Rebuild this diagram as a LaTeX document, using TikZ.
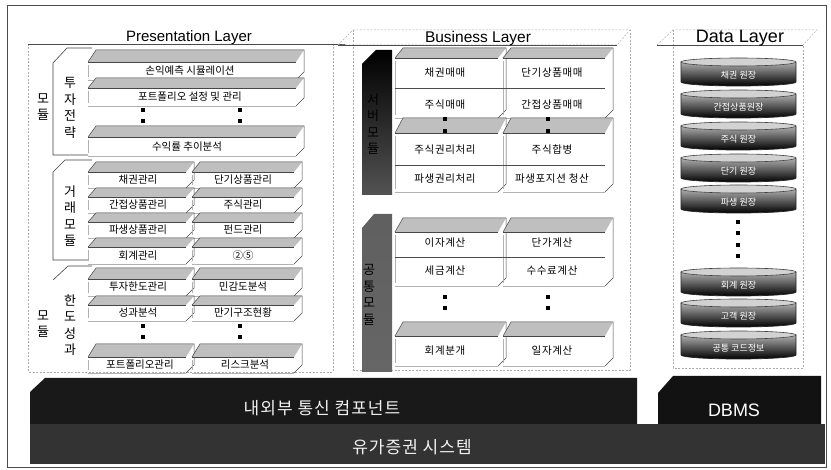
\documentclass[tikz,border=0pt]{standalone}
\usepackage{fontspec}
\setmainfont{Liberation Sans}
\newfontfamily\kr{Noto Sans CJK KR}
\newfontfamily\krwide[LetterSpace=6]{Noto Sans CJK KR}
\newcommand\myslab[5]{%
  \fill[gray!50] (#1,#4) -- ({#1+8},#3) -- ({#2+8},#3) -- (#2,#4) -- cycle;
  \draw[edge] (#1,#4) -- ({#1+8},#3) -- ({#2+8},#3) -- ({#2+8},{#5-8}) -- (#2,#5);
  \draw[edge] (#1,#4) -- (#2,#4);
  \draw[gray!60, line width=0.4pt] (#1,#5) -- (#2,#5);
  \draw[gray!60, line width=0.4pt] (#1,{#4+3}) -- (#1,{#5-3});
}
\newcommand\mydot[2]{\fill[black] ({#1-2.4},{#2-2.4}) rectangle ({#1+2.4},{#2+2.4});}
\newcommand\mycyl[3]{%
  \shade[top color=gray!40, middle color=gray!60, bottom color=black] (681,{#1-10}) -- (681,{#1+10})
     arc[start angle=180,end angle=360,x radius=57.5pt,y radius=4pt] -- (796,{#1-10})
     arc[start angle=0,end angle=180,x radius=57.5pt,y radius=4pt] -- cycle;
  \draw[black!85, line width=0.7pt] (681,{#1-10}) -- (681,{#1+10})
     arc[start angle=180,end angle=360,x radius=57.5pt,y radius=4pt] -- (796,{#1-10});
  \filldraw[fill=gray!35, draw=black!75, line width=0.6pt] (738.5,{#1-10}) ellipse[x radius=57.5pt, y radius=4pt];
  \node[cyltext] (#2) at (738.5,{#1+3}) {#3};
}
\begin{document}
\begin{tikzpicture}[x=1pt,y=-1pt,
  layerframe/.style={draw=gray!65, dash pattern=on 2pt off 1.5pt, line width=0.5pt},
  edge/.style={draw=gray!55!black, line width=0.5pt},
  item/.style={font=\kr\fontsize{10.5}{12}\selectfont, inner sep=0pt, text=black},
  bitem/.style={font=\krwide\fontsize{10.5}{12}\selectfont, inner sep=0pt, text=black},
  vlab/.style={font=\kr\fontsize{13}{16.5}\selectfont, align=center, inner sep=0pt},
  modline/.style={draw=black!75, line width=0.6pt},
  bigtext/.style={font=\krwide\fontsize{17}{19}\selectfont, text=gray!12, inner sep=0pt},
  cyltext/.style={font=\kr\fontsize{9}{10}\selectfont, text=white, inner sep=0pt},
]
\useasboundingbox (0,0) rectangle (831,470);
\fill[white] (0,0) rectangle (831,470);
\draw[black!70, line width=0.7pt] (7,5) rectangle (826,467);

% ---------------- Presentation layer ----------------
\draw[layerframe] (28,44) -- (28,372) -- (333,372) -- (333,44);
\draw[gray!60!black, line width=0.5pt] (28,44) -- (345,44);
\node[font=\fontsize{15}{17}\selectfont, anchor=base, inner sep=0pt] (ptitle) at (189,42) {Presentation Layer};

\draw[modline] (92,48) -- (67,48) -- (53,63) -- (53,155) -- (88,155);
\draw[modline] (92,160) -- (65,160) -- (53,172) -- (53,260) -- (88,260);
\draw[modline] (92,266) -- (68,266) -- (53,280);
\draw[layerframe] (43,372) -- (88,372);

\node[vlab] (m1) at (70,108) {투\\자\\전\\략};
\node[vlab] (m1b) at (43,107) {모\\듈};
\node[vlab] (m2) at (70,216) {거\\래\\모\\듈};
\node[vlab] (m3) at (70,325) {한\\도\\성\\과};
\node[vlab] (m3b) at (43,324) {모\\듈};

% module 1
\myslab{88}{296}{50}{62}{80}
\node[item] (p11) at (190,71) {손익예측 시뮬레이션};
\myslab{88}{296}{78}{88}{106}
\node[item] (p12) at (190,97) {포트폴리오 설정 및 관리};
\mydot{143}{110}\mydot{143}{121}\mydot{240}{110}\mydot{240}{121}
\myslab{88}{296}{126}{137}{156}
\node[item] (p13) at (187,147) {수익률 추이분석};

% module 2
\myslab{88}{186}{162}{172}{188}\myslab{192}{294}{162}{172}{188}
\node[item] (p21) at (138,180) {채권관리};
\node[item] (p22) at (243,180) {단기상품관리};
\myslab{88}{186}{188}{197}{213}\myslab{192}{294}{188}{197}{213}
\node[item] (p23) at (138,205) {간접상품관리};
\node[item] (p24) at (243,205) {주식관리};
\myslab{88}{186}{213}{222}{238}\myslab{192}{294}{213}{222}{238}
\node[item] (p25) at (138,230) {파생상품관리};
\node[item] (p26) at (243,230) {펀드관리};
\myslab{88}{186}{238}{247}{264}\myslab{192}{294}{238}{247}{264}
\node[item] (p27) at (138,256) {회계관리};
\node[item] (p28) at (243,256) {②⑤};

% module 3
\myslab{88}{186}{268}{279}{296}\myslab{192}{294}{268}{279}{296}
\node[item] (p31) at (138,287) {투자한도관리};
\node[item] (p32) at (243,287) {민감도분석};
\myslab{88}{186}{296}{305}{321}\myslab{192}{294}{296}{305}{321}
\node[item] (p33) at (138,313) {성과분석};
\node[item] (p34) at (243,313) {만기구조현황};
\mydot{143}{326}\mydot{143}{337}\mydot{240}{326}\mydot{240}{337}
\myslab{88}{186}{344}{357}{373}\myslab{192}{294}{344}{357}{373}
\node[item] (p35) at (140,365) {포트폴리오관리};
\node[item] (p36) at (245,365) {리스크분석};

% ---------------- Business layer ----------------
\draw[layerframe] (338,45) -- (353,30) -- (630,30) -- (617,45) -- cycle;
\draw[layerframe] (353,30) -- (353,370) -- (630,370) -- (630,30);
\draw[gray!60!black, line width=0.5pt] (338,45) -- (617,45);
\node[font=\fontsize{15.5}{17}\selectfont, anchor=base, inner sep=0pt] (btitle) at (478,43) {Business Layer};

\shade[top color=black, middle color=gray!45, bottom color=gray!65!black] (362,64) -- (376,50) -- (392,50) -- (392,195) -- (362,195) -- cycle;
\node[vlab] (sv) at (373,124) {서\\버\\모\\듈};
\shade[top color=gray!75!black, middle color=gray!22, bottom color=gray!80!black] (362,228) -- (374,214) -- (392,214) -- (392,372) -- (362,372) -- cycle;
\node[vlab] (cm) at (369,295) {공\\통\\모\\듈};

\myslab{395}{498}{48}{58}{118}\myslab{503}{605}{48}{58}{118}
\draw[black!70, line width=0.6pt] (395,88) -- (605,88);
\node[bitem] (b1) at (445,73) {채권매매};
\node[bitem] (b2) at (552,73) {단기상품매매};
\node[bitem] (b3) at (445,105) {주식매매};
\node[bitem] (b4) at (552,105) {간접상품매매};
\myslab{395}{498}{118}{133}{192}\myslab{503}{605}{118}{133}{192}
\draw[black!70, line width=0.6pt] (395,165) -- (605,165);
\mydot{445}{119}\mydot{445}{131}\mydot{548}{119}\mydot{548}{131}
\node[bitem] (b5) at (445,150) {주식권리처리};
\node[bitem] (b6) at (552,150) {주식합병};
\node[bitem] (b7) at (445,179) {파생권리처리};
\node[bitem] (b8) at (552,179) {파생포지션 청산};

\myslab{395}{498}{218}{232}{286}\myslab{503}{605}{218}{232}{286}
\draw[black!70, line width=0.6pt] (395,257) -- (605,257);
\node[bitem] (c1) at (445,243) {이자계산};
\node[bitem] (c2) at (552,243) {단가계산};
\node[bitem] (c3) at (445,271) {세금계산};
\node[bitem] (c4) at (552,271) {수수료계산};
\mydot{445}{297}\mydot{445}{308}\mydot{548}{297}\mydot{548}{308}
\myslab{395}{498}{322}{336}{366}\myslab{503}{605}{322}{336}{366}
\node[bitem] (c5) at (445,351) {회계분개};
\node[bitem] (c6) at (552,351) {일자계산};

% ---------------- Data layer ----------------
\draw[layerframe] (657,45) -- (673,30) -- (817,30) -- (803,45);
\draw[layerframe] (673,30) -- (673,368) -- (803,368) -- (803,45);
\draw[gray!60!black, line width=0.5pt] (657,45) -- (803,45);
\node[font=\fontsize{18}{20}\selectfont, anchor=base, inner sep=0pt] (dtitle) at (740,43) {Data Layer};

\mycyl{72}{d1}{채권 원장}
\mycyl{104}{d2}{간접상품원장}
\mycyl{136}{d3}{주식 원장}
\mycyl{168}{d4}{단기 원장}
\mycyl{199}{d5}{파생 원장}
\mydot{738}{222}\mydot{738}{233}\mydot{738}{245}\mydot{738}{256}
\mycyl{282}{d6}{회계 원장}
\mycyl{313}{d7}{고객 원장}
\mycyl{345}{d8}{공통 코드정보}

% ---------------- bottom bars ----------------
\fill[black!90] (30,392) -- (45,378) -- (637,378) -- (637,424) -- (30,424) -- cycle;
\fill[black!93] (658,393) -- (673,376) -- (821,376) -- (821,424) -- (658,424) -- cycle;
\fill[black!80] (30,424) -- (825,424) -- (825,464) -- (30,464) -- cycle;
\node[bigtext] (comm) at (322,408) {내외부 통신 컴포넌트};
\node[bigtext] (sys) at (412,447) {유가증권 시스템};
\node[font=\fontsize{18}{20}\selectfont, text=white, inner sep=0pt] (dbms) at (734,410) {DBMS};
\end{tikzpicture}
\end{document}
